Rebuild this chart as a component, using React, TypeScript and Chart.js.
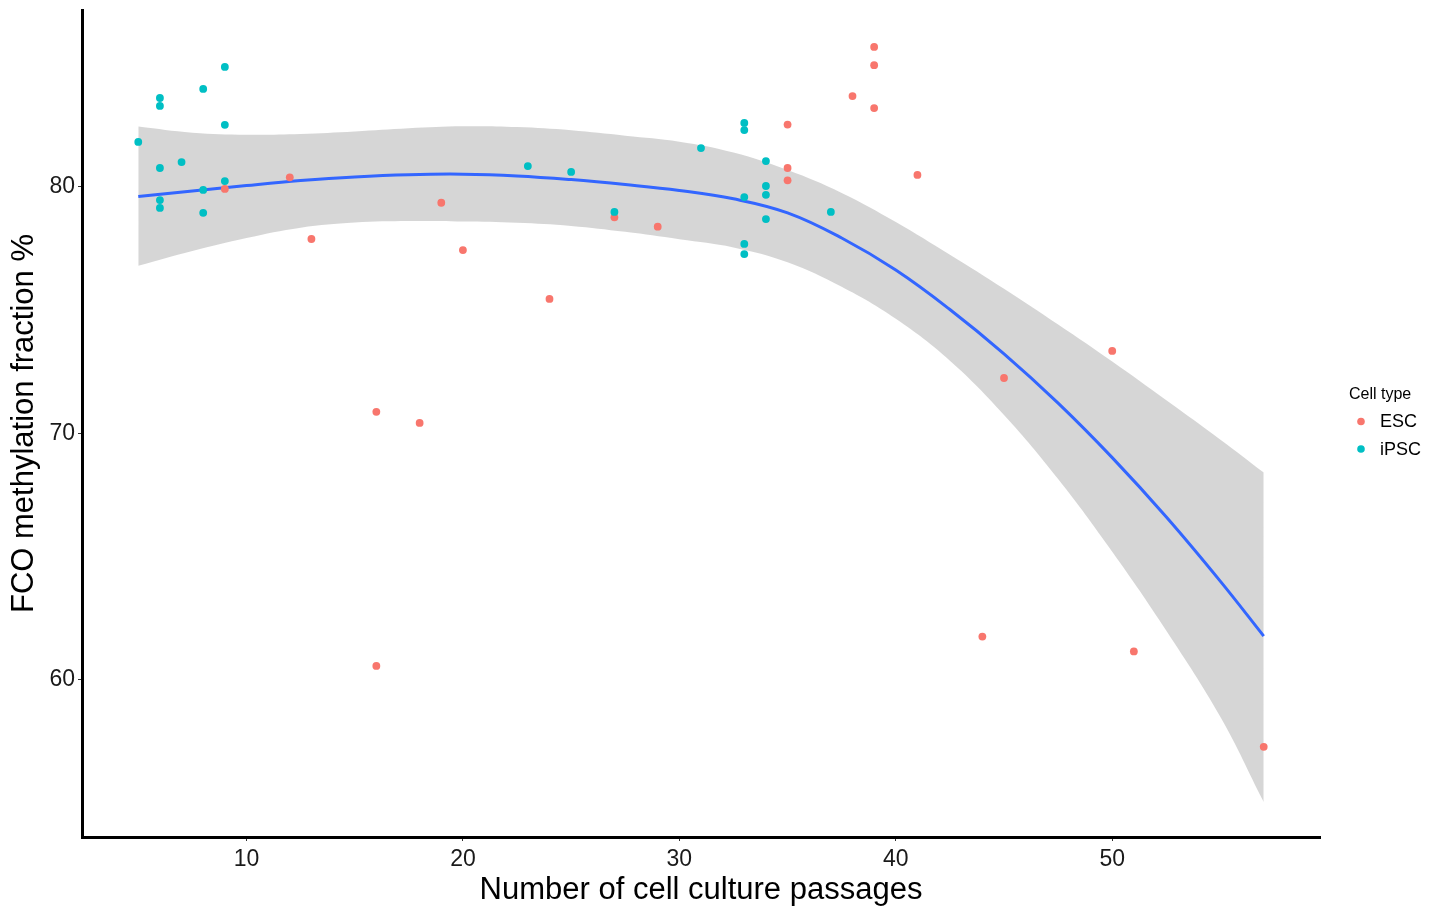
import React, { useEffect, useRef } from "react";
import { Chart, registerables } from "chart.js";

Chart.register(...registerables);

// ---- Data ----
const escX = [9, 12, 13, 16, 16, 18, 19, 20, 24, 27, 29, 35, 35, 35, 38, 39, 39, 39, 41, 44, 45, 50, 51, 57];
const escY = [79.92, 80.39, 77.89, 70.88, 60.57, 70.43, 79.36, 77.44, 75.46, 78.77, 78.39, 82.53, 80.77, 80.27, 83.69, 85.68, 84.94, 83.2, 80.49, 61.76, 72.25, 73.35, 61.16, 57.29];

const ipscX = [5, 6, 6, 6, 6, 6, 7, 8, 8, 8, 9, 9, 9, 23, 25, 27, 31, 33, 33, 33, 33, 33, 34, 34, 34, 34, 37];
const ipscY = [81.83, 83.61, 83.29, 80.77, 79.47, 79.15, 81.01, 83.98, 79.88, 78.95, 84.87, 82.52, 80.24, 80.85, 80.61, 78.99, 81.58, 82.6, 82.31, 79.59, 77.69, 77.28, 81.05, 80.04, 79.68, 78.7, 78.99];

// loess fit and its confidence band
const fitX = [5, 7.5, 10, 12.5, 15, 17.5, 20, 22.5, 25, 27.5, 30, 32.5, 35, 37.5, 40, 42.5, 45, 47.5, 50, 52.5, 55, 57];
const fitY = [79.61, 79.84, 80.06, 80.26, 80.41, 80.5, 80.52, 80.45, 80.3, 80.1, 79.86, 79.52, 78.95, 77.93, 76.63, 75.03, 73.23, 71.23, 69.02, 66.61, 64.0, 61.78];
const fitUpper = [82.45, 82.2, 82.12, 82.15, 82.25, 82.38, 82.46, 82.43, 82.3, 82.08, 81.84, 81.4, 80.69, 79.76, 78.58, 77.25, 75.87, 74.42, 72.92, 71.35, 69.75, 68.42];
const fitLower = [76.8, 77.4, 77.93, 78.35, 78.56, 78.62, 78.6, 78.55, 78.42, 78.18, 77.88, 77.55, 76.95, 75.95, 74.65, 72.95, 70.75, 68.15, 65.2, 62.0, 58.5, 55.05];

const xTicks = [10, 20, 30, 40, 50];
const yTicks = [60, 70, 80];

const xTitle = "Number of cell culture passages";
const yTitle = "FCO methylation fraction %";
const legendTitle = "Cell type";

const FONT = '"Liberation Sans", Arial, Helvetica, sans-serif';

const toPts = (xs: number[], ys: number[]) => xs.map((x, i) => ({ x, y: ys[i] }));

const sideLegend = {
  id: "sideLegend",
  afterDraw(chart: any) {
    const { ctx, chartArea } = chart;
    const cy = (chartArea.top + chartArea.bottom) / 2;
    const x0 = chartArea.right + 29;
    ctx.save();
    ctx.textBaseline = "middle";
    ctx.textAlign = "left";
    ctx.fillStyle = "#000";
    ctx.font = `16px ${FONT}`;
    ctx.fillText(legendTitle, x0, cy - 29);
    const items = chart.data.datasets.filter((d: any) => d.inLegend);
    items.forEach((d: any, i: number) => {
      const y = cy - 2 + i * 27.5;
      ctx.beginPath();
      ctx.arc(x0 + 12, y, 3.8, 0, Math.PI * 2);
      ctx.fillStyle = d.backgroundColor;
      ctx.fill();
      ctx.fillStyle = "#000";
      ctx.font = `18px ${FONT}`;
      ctx.fillText(d.label, x0 + 31, y + 1);
    });
    ctx.restore();
  },
};

export default function App() {
  const ref = useRef<HTMLCanvasElement | null>(null);

  useEffect(() => {
    if (!ref.current) return;
    const chart = new Chart(ref.current, {
      type: "scatter",
      data: {
        datasets: [
          {
            type: "line",
            label: "upper",
            data: toPts(fitX, fitUpper),
            borderWidth: 0,
            borderColor: "rgba(0,0,0,0)",
            pointRadius: 0,
            tension: 0.4,
            fill: "+1",
            backgroundColor: "rgba(153,153,153,0.4)",
            order: 3,
          },
          {
            type: "line",
            label: "lower",
            data: toPts(fitX, fitLower),
            borderWidth: 0,
            borderColor: "rgba(0,0,0,0)",
            pointRadius: 0,
            tension: 0.4,
            fill: false,
            order: 3,
          },
          {
            type: "line",
            label: "fit",
            data: toPts(fitX, fitY),
            borderColor: "#3366FF",
            borderWidth: 3,
            pointRadius: 0,
            tension: 0.4,
            fill: false,
            order: 2,
          },
          {
            type: "scatter",
            label: "ESC",
            inLegend: true,
            data: toPts(escX, escY),
            backgroundColor: "#F8766D",
            borderWidth: 0,
            pointRadius: 3.9,
            order: 1,
          } as any,
          {
            type: "scatter",
            label: "iPSC",
            inLegend: true,
            data: toPts(ipscX, ipscY),
            backgroundColor: "#00BFC4",
            borderWidth: 0,
            pointRadius: 3.9,
            order: 0,
          } as any,
        ],
      },
      options: {
        responsive: false,
        animation: false,
        layout: { padding: { top: 10, right: 122, left: 0, bottom: 0 } },
        plugins: {
          legend: { display: false },
          tooltip: { enabled: false },
        },
        scales: {
          x: {
            type: "linear",
            min: 2.4,
            max: 59.6,
            afterFit: (s: any) => {
              s.height = 74;
              s.paddingLeft = 0;
              s.paddingRight = 0;
            },
            afterBuildTicks: (s: any) => {
              s.ticks = xTicks.map((v) => ({ value: v }));
            },
            border: { display: true, color: "#000", width: 3 },
            grid: { display: true, drawOnChartArea: false, drawTicks: true, tickLength: 4, color: "#333", lineWidth: 1 },
            ticks: { color: "#1a1a1a", font: { family: FONT, size: 23 }, padding: 5, maxRotation: 0 },
            title: { display: true, text: xTitle, color: "#000", font: { family: FONT, size: 31 }, padding: { top: 0, bottom: 2 } },
          },
          y: {
            type: "linear",
            min: 53.63,
            max: 87.18,
            afterFit: (s: any) => {
              s.width = 82;
              s.paddingTop = 0;
              s.paddingBottom = 0;
            },
            afterBuildTicks: (s: any) => {
              s.ticks = yTicks.map((v) => ({ value: v }));
            },
            border: { display: true, color: "#000", width: 3 },
            grid: { display: true, drawOnChartArea: false, drawTicks: true, tickLength: 4, color: "#333", lineWidth: 1 },
            ticks: { color: "#1a1a1a", font: { family: FONT, size: 23 }, padding: 3 },
            title: { display: true, text: yTitle, color: "#000", font: { family: FONT, size: 31 }, padding: { top: 6, bottom: 0 } },
          },
        },
      },
      plugins: [sideLegend],
    });
    return () => chart.destroy();
  }, []);

  return (
    <div style={{ position: "absolute", left: 0, top: 0, width: 1442, height: 911, background: "#fff" }}>
      <canvas ref={ref} width={1442} height={911} style={{ width: 1442, height: 911, display: "block" }} />
    </div>
  );
}
